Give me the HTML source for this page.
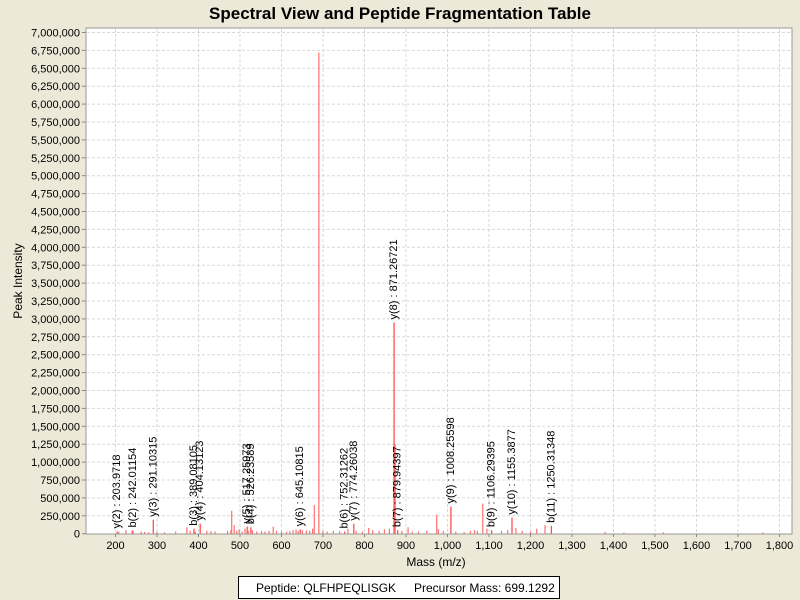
<!DOCTYPE html>
<html><head><meta charset="utf-8"><style>
body{margin:0;background:#ECE9D8;font-family:"Liberation Sans",sans-serif}
svg{display:block}
</style></head><body>
<svg width="800" height="600" id="chart">
<rect width="800" height="600" fill="#ECE9D8"/>
<text x="400" y="19" text-anchor="middle" font-size="17" font-weight="bold" fill="#000">Spectral View and Peptide Fragmentation Table</text>
<rect x="86" y="28" width="706" height="506" fill="#fff" stroke="#999"/>
<g id="grid"></g><g id="peaks"></g><g id="labels"></g><g id="axes"></g>
<text x="436" y="566" text-anchor="middle" font-size="12">Mass (m/z)</text>
<text transform="translate(22,281) rotate(-90)" text-anchor="middle" font-size="12">Peak Intensity</text>
<g>
<rect x="238.5" y="576.5" width="321" height="22" fill="#fff" stroke="#000"/>
<text x="256" y="592" font-size="12">Peptide: QLFHPEQLISGK</text>
<text x="414" y="592" font-size="12">Precursor Mass: 699.1292</text>
</g>
</svg>
<script>
const xTicks=[200,300,400,500,600,700,800,900,1000,1100,1200,1300,1400,1500,1600,1700,1800];
const yTicks=[0,250000,500000,750000,1000000,1250000,1500000,1750000,2000000,2250000,2500000,2750000,3000000,3250000,3500000,3750000,4000000,4250000,4500000,4750000,5000000,5250000,5500000,5750000,6000000,6250000,6500000,6750000,7000000];
const peakMz=[208,225,240,262,270,280,300,318,345,372,380,392,420,430,440,470,478,480,486,492,498,505,512,520,530,540,552,560,570,580,588,600,612,620,628,635,640,650,660,668,675,679,690,700,710,725,740,760,780,795,810,820,835,848,860,874,890,905,915,930,950,974,978,990,1020,1040,1055,1065,1072,1085,1095,1130,1145,1165,1180,1200,1215,1235,1380,1425,1520,1760];
const peakInt=[30000,50000,45000,30000,25000,20000,25000,20000,30000,90000,40000,30000,40000,35000,30000,40000,50000,320000,120000,40000,60000,30000,70000,40000,50000,30000,35000,30000,40000,100000,40000,30000,25000,35000,50000,60000,40000,50000,45000,40000,70000,400000,6720000,40000,30000,40000,30000,70000,40000,30000,80000,50000,40000,60000,70000,1250000,40000,90000,30000,30000,40000,265000,60000,40000,30000,25000,40000,50000,40000,420000,70000,40000,50000,80000,40000,30000,70000,120000,25000,15000,20000,20000];
const ionNames=["y(2) : 203.9718","b(2) : 242.01154","y(3) : 291.10315","b(3) : 389.08105","y(4) : 404.13123","y(5) : 517.25973","b(4) : 526.23589","y(6) : 645.10815","b(6) : 752.31262","y(7) : 774.26038","y(8) : 871.26721","b(7) : 879.94397","y(9) : 1008.25598","b(9) : 1106.29395","y(10) : 1155.3877","b(11) : 1250.31348"];
const ionMz=[203.97,242.01,291.10,389.08,404.13,517.26,526.24,645.11,752.31,774.26,871.27,879.94,1008.26,1106.29,1155.39,1250.31];
const ionInt=[30000,45000,195000,70000,140000,100000,90000,60000,30000,140000,2950000,50000,380000,50000,225000,110000];
const NS="http://www.w3.org/2000/svg";
const X=m=>115.5+(m-200)*0.415;
const Y=v=>533.7-v*71.6/1e6;
function mk(tag,parent,attrs){const e=document.createElementNS(NS,tag);for(const k in attrs)e.setAttribute(k,attrs[k]);parent.appendChild(e);return e;}
const grid=document.getElementById('grid'),axes=document.getElementById('axes'),pk=document.getElementById('peaks'),lb=document.getElementById('labels');
xTicks.forEach(t=>{const x=X(t);
 const g=mk('line',grid,{x1:x,x2:x,y1:29,y2:533,stroke:'#d8d8d8','stroke-dasharray':'3,2'});
 
 mk('line',axes,{x1:x,x2:x,y1:534,y2:537,stroke:'#888'});
 const tx=mk('text',axes,{x:x,y:549,'text-anchor':'middle','font-size':'11'});
 
 tx.textContent=t.toLocaleString('en-US');});
yTicks.forEach(t=>{const y=Y(t);
 if(t>0){const g=mk('line',grid,{x1:87,x2:791,y1:y,y2:y,stroke:'#d8d8d8','stroke-dasharray':'3,2'});
 }
 mk('line',axes,{x1:82,x2:86,y1:y,y2:y,stroke:'#888'});
 const tx=mk('text',axes,{x:80,y:y+4,'text-anchor':'end','font-size':'11'});
 
 tx.textContent=t.toLocaleString('en-US');});
peakMz.forEach((m,i)=>{const x=X(m);
 const l=mk('line',pk,{x1:x,x2:x,y1:533.5,y2:Y(peakInt[i]),stroke:'#ff7070','stroke-width':'1.2'});
 });
ionMz.forEach((m,i)=>{const x=X(m),y=Y(ionInt[i]);
 const l=mk('line',pk,{x1:x,x2:x,y1:533.5,y2:y,stroke:'#ff5050','stroke-width':'1.3'});
 
 const t=mk('text',lb,{x:x+3,y:y-3,'font-size':'11',transform:`rotate(-90 ${x+3} ${y-3})`});
 
 t.textContent=ionNames[i];});
</script>
</body></html>
